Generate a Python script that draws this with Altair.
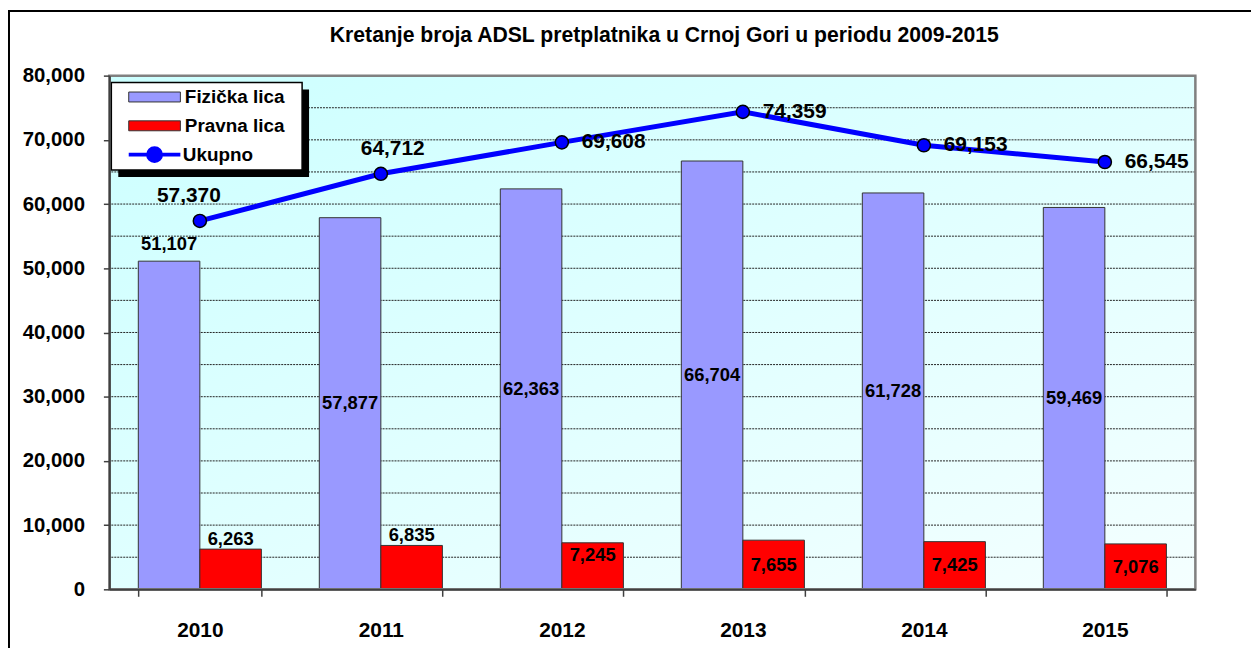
import altair as alt
import pandas as pd

# ---------------- data ----------------
years = ["2010", "2011", "2012", "2013", "2014", "2015"]
fizicka = [51107, 57877, 62363, 66704, 61728, 59469]
pravna = [6263, 6835, 7245, 7655, 7425, 7076]
ukupno = [57370, 64712, 69608, 74359, 69153, 66545]
series_names = ["Fizička lica", "Pravna lica", "Ukupno"]
series_colors = ["#9999FF", "#FF0000", "#0000FF"]
y_tick_values = [0, 10000, 20000, 30000, 40000, 50000, 60000, 70000, 80000]
grid_values = [5000, 10000, 15000, 20000, 25000, 30000, 35000, 40000,
               45000, 50000, 55000, 60000, 65000, 70000, 75000]
title_text = "Kretanje broja ADSL pretplatnika u Crnoj Gori u periodu 2009-2015"

bars_df = pd.DataFrame({
    "year": years + years,
    "series": [series_names[0]] * len(years) + [series_names[1]] * len(years),
    "value": fizicka + pravna,
})
line_df = pd.DataFrame({"year": years, "series": series_names[2], "value": ukupno})
grid_df = pd.DataFrame({"value": grid_values})
title_df = pd.DataFrame({"t": [title_text]})
one_df = pd.DataFrame({"a": [0]})

# ---------------- styling ----------------
W, H = 1093, 517
FONT = "Liberation Sans"

x_axis = alt.Axis(title=None, labelAngle=0, tickBand="extent", labelFont=FONT,
                  labelFontSize=21, labelFontWeight="bold", labelColor="black",
                  labelPadding=23, tickSize=7, tickColor="#404040", tickWidth=1.5,
                  domainColor="#404040", domainWidth=2, zindex=1)
y_axis = alt.Axis(title=None, values=y_tick_values, labelExpr="format(datum.value, ',')",
                  grid=False, labelFont=FONT, labelFontSize=20.5, labelFontWeight="bold",
                  labelColor="black", labelPadding=19, tickSize=6,
                  tickColor="#404040", tickWidth=1.5, domainColor="#404040",
                  domainWidth=2, zindex=1)

X = alt.X("year:N", sort=years,
          scale=alt.Scale(paddingInner=0.32, paddingOuter=0.16), axis=x_axis)
XO = alt.XOffset("series:N", sort=series_names[:2],
                 scale=alt.Scale(domain=series_names[:2], paddingInner=0, paddingOuter=0))
yscale = alt.Scale(domain=[0, 80000], nice=False, zero=True)


def Y(field):
    return alt.Y(field, scale=yscale, axis=y_axis, title=None)


rect_path = "M-5.2,-1L5.2,-1L5.2,1L-5.2,1Z"
line_path = ("M-5.2,0L-1.3,0M1.3,0L5.2,0M1.3,0A1.3,1.3 0 1,1 -1.3,0"
             "A1.3,1.3 0 1,1 1.3,0Z")
leg_common = dict(title=None, orient="none", padding=0, labelFont=FONT,
                  labelFontSize=19, labelFontWeight="bold", labelColor="black",
                  symbolSize=100, rowPadding=9, symbolOpacity=1)
bar_legend = alt.Legend(legendX=8, legendY=12, symbolType=rect_path,
                        symbolStrokeColor="#333333", symbolStrokeWidth=1,
                        symbolOffset=28, labelOffset=21, **leg_common)
line_legend = alt.Legend(legendX=8, legendY=70, symbolType=line_path,
                         symbolFillColor="#0000FF", symbolStrokeWidth=4,
                         symbolOffset=28, labelOffset=19, **leg_common)

fill_enc = alt.Fill("series:N", scale=alt.Scale(domain=series_names[:2], range=series_colors[:2]),
                    legend=bar_legend)
stroke_enc = alt.Stroke("series:N", scale=alt.Scale(domain=series_names[2:], range=series_colors[2:]),
                        legend=line_legend)

# ---------------- layers ----------------
bg = alt.Chart(one_df).mark_rect(
    color=alt.LinearGradient(gradient="linear",
                             stops=[alt.GradientStop(color="#CCFFFF", offset=0),
                                    alt.GradientStop(color="#F4FFFF", offset=1)],
                             x1=0, y1=0, x2=1, y2=1)
).encode(x=alt.value(0), x2=alt.value(W), y=alt.value(0), y2=alt.value(H))

grid = alt.Chart(grid_df).mark_rule(color="#222222", strokeWidth=1, strokeDash=[2, 1]).encode(
    y=Y("value:Q"))

bars = alt.Chart(bars_df).mark_bar(stroke="#333333", strokeWidth=1, opacity=1).encode(
    x=X, xOffset=XO, y=Y("value:Q"), fill=fill_enc)

lbl_style = dict(font=FONT, fontSize=18.5, fontWeight="bold", color="black")
TXT = alt.Text("value:Q", format=",")

fiz_above = alt.Chart(bars_df).transform_filter(
    "datum.series === 'Fizička lica' && datum.year === '2010'"
).mark_text(baseline="alphabetic", dy=-11, **lbl_style).encode(
    x=X, xOffset=XO, y=Y("value:Q"), text=TXT)

fiz_mid = alt.Chart(bars_df).transform_filter(
    "datum.series === 'Fizička lica' && datum.year !== '2010'"
).transform_calculate(mid="datum.value / 2").mark_text(
    baseline="middle", **lbl_style).encode(
    x=X, xOffset=XO, y=Y("mid:Q"), text=TXT)

pr_above = alt.Chart(bars_df).transform_filter(
    "datum.series === 'Pravna lica' && (datum.year === '2010' || datum.year === '2011')"
).mark_text(baseline="alphabetic", dy=-4, **lbl_style).encode(
    x=X, xOffset=XO, y=Y("value:Q"), text=TXT)

pr_top = alt.Chart(bars_df).transform_filter(
    "datum.series === 'Pravna lica' && datum.year === '2012'"
).mark_text(baseline="middle", dy=12, **lbl_style).encode(
    x=X, xOffset=XO, y=Y("value:Q"), text=TXT)

pr_mid = alt.Chart(bars_df).transform_filter(
    "datum.series === 'Pravna lica' && datum.year >= '2013'"
).transform_calculate(mid="datum.value / 2").mark_text(
    baseline="middle", **lbl_style).encode(
    x=X, xOffset=XO, y=Y("mid:Q"), text=TXT)

line = alt.Chart(line_df).mark_line(strokeWidth=5, opacity=1).encode(
    x=X, y=Y("value:Q"), stroke=stroke_enc)

points = alt.Chart(line_df).mark_point(filled=True, size=175, fill="#0000FF",
                                       stroke="black", strokeWidth=1.5, opacity=1).encode(
    x=X, y=Y("value:Q"))

big_lbl = dict(font=FONT, fontSize=21, fontWeight="bold", color="black")
ul_2010 = alt.Chart(line_df).transform_filter("datum.year === '2010'").mark_text(
    align="center", baseline="alphabetic", dx=-11, dy=-19, **big_lbl).encode(
    x=X, y=Y("value:Q"), text=TXT)
ul_2011 = alt.Chart(line_df).transform_filter("datum.year === '2011'").mark_text(
    align="center", baseline="alphabetic", dx=12, dy=-19, **big_lbl).encode(
    x=X, y=Y("value:Q"), text=TXT)
ul_rest = alt.Chart(line_df).transform_filter(
    "datum.year !== '2010' && datum.year !== '2011'").mark_text(
    align="left", baseline="middle", dx=20, **big_lbl).encode(
    x=X, y=Y("value:Q"), text=TXT)

# legend box with shadow (decoration)
leg_shadow = alt.Chart(one_df).mark_rect(color="black").encode(
    x=alt.value(9), x2=alt.value(201), y=alt.value(14), y2=alt.value(102))
leg_box = alt.Chart(one_df).mark_rect(fill="white", stroke="black", strokeWidth=1.5).encode(
    x=alt.value(2), x2=alt.value(194), y=alt.value(7), y2=alt.value(95))

# chart title as a text mark (centred above the plot)
title = alt.Chart(title_df).mark_text(
    font=FONT, fontSize=21.3, fontWeight="bold", color="black",
    align="center", baseline="middle").encode(
    text="t:N", x=alt.value(W / 2 + 12), y=alt.value(-40))

# plot frame (gray) and outer chart border
frame = alt.Chart(one_df).mark_rect(fill=None, stroke="#808080", strokeWidth=2.5).encode(
    x=alt.value(0), x2=alt.value(W), y=alt.value(0), y2=alt.value(H))
outer = alt.Chart(one_df).mark_rect(fill=None, stroke="black", strokeWidth=2).encode(
    x=alt.value(-101), x2=alt.value(1200), y=alt.value(-65), y2=alt.value(700))

chart = alt.layer(
    bg, grid, bars, fiz_above, fiz_mid, pr_above, pr_top, pr_mid, line, points,
    ul_2010, ul_2011, ul_rest, leg_shadow, leg_box, title, frame, outer
).resolve_legend(fill="independent", stroke="independent").properties(
    width=W, height=H,
    autosize=alt.AutoSizeParams(type="none"),
    padding={"left": 102, "top": 66, "right": 56, "bottom": 60},
).configure_view(stroke=None).configure(background="white")

chart.save("out.html", embed_options={"renderer": "svg", "actions": False})
